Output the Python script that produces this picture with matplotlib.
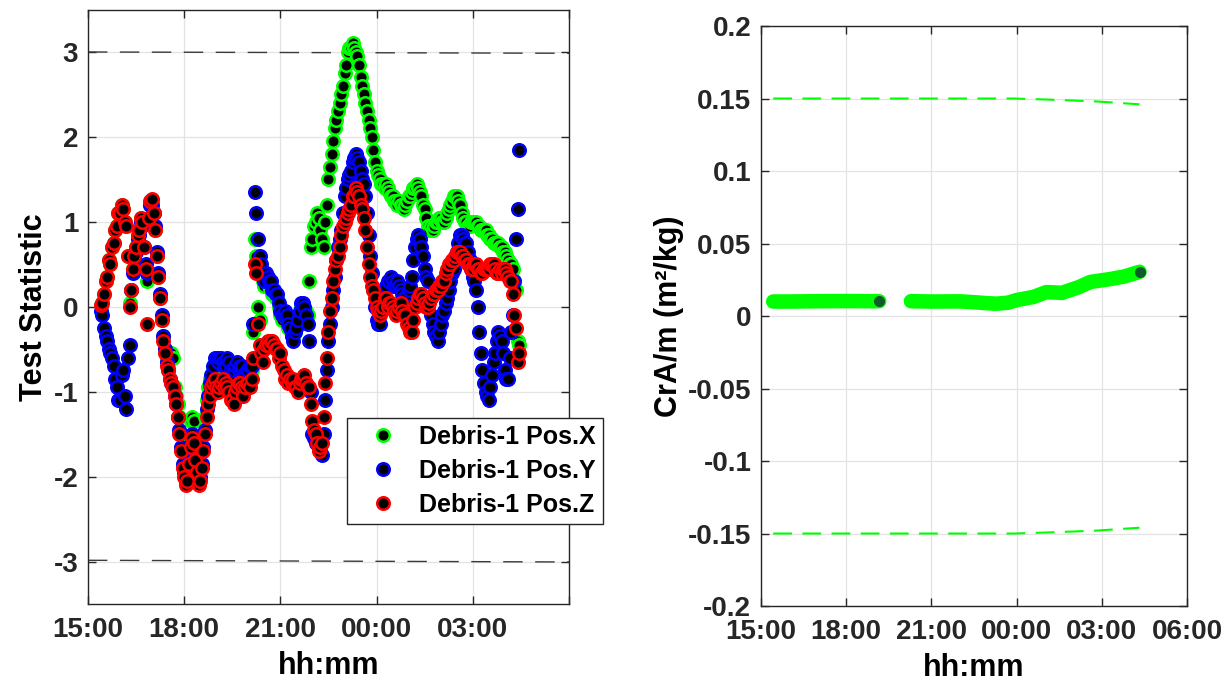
import matplotlib.pyplot as plt
import numpy as np

plt.rcParams['font.family'] = ['Liberation Sans', 'DejaVu Sans']
plt.rcParams['font.weight'] = 'bold'
plt.rcParams['axes.unicode_minus'] = False

# sample times, minutes after 15:00 (one row = one hour)
t_min = [24, 27, 30, 33, 36, 39, 42, 45, 48, 51, 54, 57, 60, 63, 66, 69, 72, 75, 78, 81,
         84, 87, 90, 93, 96, 99, 102, 105, 108, 111, 114, 117, 120, 123, 126, 129, 132, 135, 138, 141,
         144, 147, 150, 153, 156, 159, 162, 165, 168, 171, 174, 177, 180, 183, 186, 189, 192, 195, 198, 201,
         204, 207, 210, 213, 216, 219, 222, 225, 228, 231, 234, 237, 240, 243, 246, 249, 252, 255, 258, 261,
         264, 267, 270, 273, 276, 279, 282, 285, 288, 291, 294, 297, 300, 303, 306, 309, 312, 315, 318, 321,
         324, 327, 330, 333, 336, 339, 342, 345, 348, 351, 354, 357, 360, 363, 366, 369, 372, 375, 378, 381,
         384, 387, 390, 393, 396, 399, 402, 405, 408, 411, 414, 417, 420, 423, 426, 429, 432, 435, 438, 441,
         444, 447, 450, 453, 456, 459, 462, 465, 468, 471, 474, 477, 480, 483, 486, 489, 492, 495, 498, 501,
         504, 507, 510, 513, 516, 519, 522, 525, 528, 531, 534, 537, 540, 543, 546, 549, 552, 555, 558, 561,
         564, 567, 570, 573, 576, 579, 582, 585, 588, 591, 594, 597, 600, 603, 606, 609, 612, 615, 618, 621,
         624, 627, 630, 633, 636, 639, 642, 645, 648, 651, 654, 657, 660, 663, 666, 669, 672, 675, 678, 681,
         684, 687, 690, 693, 696, 699, 702, 705, 708, 711, 714, 717, 720, 723, 726, 729, 732, 735, 738, 741,
         744, 747, 750, 753, 756, 759, 762, 765, 768, 771, 774, 777, 780, 783, 786, 789, 792, 795, 798, 801,
         804, 807]

pos_x = [0.02, 0.05, 0.15, 0.3, 0.35, 0.55, 0.5, 0.7, 0.75, 0.9, 0.95, 1.1, 1.1, 1.2, 1.15, 1.0, 0.95, 0.6, 0.05, 0.2,
         0.45, 0.6, 0.7, 0.85, 0.9, 1.05, 1.0, 0.7, 0.45, 0.3, 1.05, 1.2, 1.25, 1.1, 0.9, 0.6, 0.35, 0.1, -0.15, -0.35,
         -0.5, -0.6, -0.7, -0.6, -0.55, -0.6, -0.95, -1.05, -1.15, -1.3, -1.5, -1.7, -1.85, -1.9, -1.85, -1.6, -1.35, -1.3, -1.35, -1.55,
         -1.75, -1.85, -1.85, -1.7, -1.5, -1.3, -1.1, -0.95, -0.85, -0.8, -0.75, -0.75, -0.8, -0.8, -0.8, -0.75, -0.75, -0.8, -0.8, -0.75,
         -0.8, -0.85, -0.9, -0.9, -0.85, -0.8, -0.85, -0.8, -0.8, -0.9, -0.85, -0.8, -0.8, -0.8, -0.75, -0.3, 0.8, 0.6, 0.0, -0.15,
         0.4, 0.3, 0.25, 0.35, 0.3, 0.25, 0.25, 0.15, 0.15, 0.1, 0.1, 0.0, -0.1, -0.15, -0.1, -0.1, -0.15, -0.25, -0.25, -0.35,
         -0.35, -0.3, -0.25, -0.15, -0.1, 0.0, 0.0, -0.05, -0.05, -0.1, 0.3, 0.7, 0.8, 0.95, 1.0, 1.1, 1.05, 0.9, 0.8, 0.7,
         1.0, 1.2, 1.5, 1.65, 1.8, 1.95, 2.1, 2.2, 2.3, 2.4, 2.5, 2.6, 2.75, 2.85, 3.0, 3.05, 3.05, 3.1, 3.05, 3.0,
         2.95, 2.85, 2.7, 2.6, 2.5, 2.4, 2.3, 2.2, 2.1, 2.0, 1.85, 1.7, 1.6, 1.55, 1.5, 1.45, 1.45, 1.4, 1.45, 1.4,
         1.35, 1.3, 1.3, 1.25, 1.25, 1.2, 1.25, 1.2, 1.2, 1.15, 1.2, 1.25, 1.3, 1.3, 1.35, 1.4, 1.4, 1.45, 1.4, 1.35,
         1.3, 1.2, 1.15, 1.05, 0.95, 0.9, 0.95, 0.9, 0.95, 1.0, 1.0, 1.05, 1.05, 1.0, 1.0, 1.05, 1.1, 1.15, 1.2, 1.25,
         1.3, 1.3, 1.3, 1.25, 1.2, 1.1, 1.05, 1.0, 1.0, 0.95, 0.95, 1.0, 1.0, 1.0, 1.0, 0.95, 0.95, 0.9, 0.9, 0.9,
         0.9, 0.85, 0.85, 0.8, 0.8, 0.75, 0.75, 0.75, 0.75, 0.7, 0.7, 0.65, 0.65, 0.6, 0.55, 0.5, 0.5, 0.45, 0.3, 0.2,
         -0.4, -0.45]

pos_y = [-0.05, -0.1, -0.25, -0.35, -0.4, -0.5, -0.55, -0.6, -0.7, -0.85, -0.95, -1.1, -1.1, -0.8, -0.75, -1.05, -1.2, -0.6, -0.45, 0.2,
         0.4, 0.55, 0.65, 0.8, 0.85, 1.0, 0.95, 0.7, 0.5, 0.4, 1.0, 1.2, 1.2, 1.1, 0.95, 0.65, 0.4, 0.15, -0.1, -0.35,
         -0.5, -0.65, -0.75, -0.85, -0.9, -0.95, -1.05, -1.15, -1.3, -1.45, -1.65, -1.85, -1.95, -2.05, -2.0, -1.8, -1.65, -1.5, -1.55, -1.75,
         -1.9, -2.05, -2.0, -1.85, -1.65, -1.45, -1.2, -1.05, -0.9, -0.8, -0.7, -0.6, -0.6, -0.65, -0.6, -0.6, -0.65, -0.7, -0.7, -0.6,
         -0.65, -0.75, -0.8, -0.75, -0.7, -0.65, -0.75, -0.7, -0.7, -0.8, -0.8, -0.75, -0.75, -0.7, -0.7, -0.2, 1.35, 1.1, 0.8, 0.6,
         0.5, 0.35, 0.3, 0.4, 0.35, 0.3, 0.3, 0.2, 0.2, 0.15, 0.15, 0.05, -0.05, -0.1, -0.1, -0.05, -0.1, -0.2, -0.25, -0.35,
         -0.4, -0.3, -0.25, -0.15, -0.05, 0.05, 0.05, 0.0, -0.1, -0.2, -0.4, -1.0, -1.5, -1.55, -1.6, -1.55, -1.55, -1.65, -1.75, -1.5,
         -1.1, -0.75, -0.4, -0.2, 0.0, 0.2, 0.35, 0.55, 0.7, 0.8, 0.9, 1.1, 1.3, 1.4, 1.5, 1.55, 1.6, 1.7, 1.75, 1.8,
         1.75, 1.7, 1.6, 1.5, 1.45, 1.3, 1.1, 0.85, 0.6, 0.4, 0.2, 0.0, -0.15, -0.2, -0.2, -0.05, 0.1, 0.2, 0.25, 0.3,
         0.3, 0.35, 0.3, 0.25, 0.25, 0.3, 0.25, 0.2, 0.15, 0.1, 0.1, 0.15, 0.2, 0.25, 0.35, 0.55, 0.7, 0.8, 0.85, 0.8,
         0.7, 0.6, 0.45, 0.35, 0.3, 0.1, -0.1, -0.2, -0.3, -0.35, -0.4, -0.3, -0.2, -0.1, -0.05, 0.05, 0.1, 0.2, 0.3, 0.4,
         0.45, 0.55, 0.65, 0.75, 0.85, 0.85, 0.8, 0.75, 0.75, 0.65, 0.55, 0.45, 0.35, 0.3, 0.2, 0.0, -0.3, -0.55, -0.75, -0.9,
         -1.0, -1.05, -1.1, -0.95, -0.8, -0.65, -0.55, -0.4, -0.3, -0.35, -0.4, -0.55, -0.75, -0.85, -0.85, -0.6, -0.3, -0.1, 0.3, 0.8,
         1.15, 1.85]

pos_z = [0.02, 0.05, 0.15, 0.3, 0.35, 0.55, 0.5, 0.7, 0.75, 0.9, 0.95, 1.1, 1.1, 1.2, 1.15, 1.0, 0.95, 0.6, 0.0, 0.2,
         0.45, 0.6, 0.7, 0.85, 0.9, 1.05, 1.0, 0.7, 0.45, -0.2, 1.05, 1.25, 1.27, 1.1, 0.9, 0.6, 0.35, 0.1, -0.15, -0.4,
         -0.55, -0.7, -0.75, -0.85, -0.9, -0.95, -1.05, -1.15, -1.3, -1.5, -1.7, -1.9, -2.0, -2.1, -2.05, -1.85, -1.65, -1.55, -1.6, -1.8,
         -1.95, -2.1, -2.05, -1.9, -1.7, -1.5, -1.3, -1.15, -1.05, -0.95, -0.9, -0.85, -0.95, -1.0, -0.95, -0.9, -0.85, -0.95, -0.9, -0.95,
         -1.0, -1.1, -1.1, -1.15, -1.0, -0.95, -0.9, -0.9, -0.95, -1.05, -0.95, -0.9, -0.9, -0.95, -0.85, -0.6, 0.5, 0.4, -0.2, -0.45,
         -0.55, -0.65, -0.5, -0.45, -0.4, -0.45, -0.4, -0.4, -0.45, -0.5, -0.5, -0.6, -0.55, -0.7, -0.75, -0.85, -0.8, -0.9, -0.85, -0.9,
         -0.85, -0.95, -0.95, -1.0, -0.9, -0.85, -0.85, -0.8, -0.9, -0.95, -0.95, -1.15, -1.35, -1.45, -1.5, -1.6, -1.7, -1.65, -1.6, -1.3,
         -0.9, -0.6, -0.3, -0.05, 0.1, 0.3, 0.45, 0.55, 0.6, 0.7, 0.85, 0.95, 1.0, 1.05, 1.1, 1.15, 1.2, 1.3, 1.3, 1.4,
         1.35, 1.3, 1.2, 1.15, 1.05, 0.9, 0.7, 0.5, 0.35, 0.25, 0.2, 0.1, 0.0, -0.05, -0.1, -0.05, 0.0, 0.1, 0.1, 0.0,
         0.05, 0.05, 0.0, -0.05, -0.1, -0.05, 0.0, 0.05, -0.05, -0.1, -0.1, -0.2, -0.25, -0.3, -0.3, -0.15, 0.0, 0.05, 0.1, 0.15,
         0.15, 0.1, 0.05, 0.0, 0.0, 0.05, 0.1, 0.15, 0.15, 0.2, 0.2, 0.25, 0.25, 0.3, 0.3, 0.4, 0.45, 0.5, 0.5, 0.55,
         0.55, 0.6, 0.65, 0.65, 0.65, 0.6, 0.6, 0.55, 0.55, 0.5, 0.5, 0.45, 0.45, 0.5, 0.5, 0.45, 0.45, 0.4, 0.4, 0.45,
         0.45, 0.45, 0.45, 0.5, 0.5, 0.5, 0.45, 0.4, 0.4, 0.45, 0.4, 0.45, 0.45, 0.4, 0.35, 0.3, 0.3, 0.15, -0.1, -0.25,
         -0.65, -0.55]

# threshold lines (left), start/end of axis
thr_t = [0, 15]
thr_hi = [3.0, 2.985]
thr_lo = [-2.985, -3.005]

# CrA/m estimate (right), two segments, hours after 15:00
cra_t1 = [0.43, 1.0, 2.0, 3.0, 4.16]
cra_v1 = [0.0100, 0.0100, 0.0102, 0.0103, 0.0102]
cra_t2 = [5.28, 6.0, 7.0, 7.5, 8.0, 8.3, 8.7, 9.0, 9.6, 10.05, 10.6, 11.2, 11.6, 12.3, 12.8, 13.33]
cra_v2 = [0.0102, 0.0100, 0.0101, 0.0095, 0.0088, 0.0085, 0.0092, 0.0110, 0.0132, 0.0165, 0.0160, 0.0200, 0.0235, 0.0255, 0.0273, 0.0305]
bnd_t = [0.43, 8.9, 10.05, 11.8, 13.33]
bnd_v = [0.150, 0.150, 0.1493, 0.148, 0.146]

xticks = [0, 3, 6, 9, 12, 15]
xlabels_left = ['15:00', '18:00', '21:00', '00:00', '03:00', '']
xlabels_right = ['15:00', '18:00', '21:00', '00:00', '03:00', '06:00']

ink = '#262626'
t_hr = np.array(t_min) / 60.0

fig = plt.figure(figsize=(12.3, 6.9), dpi=100)
ax1 = fig.add_axes([0.0715, 0.1246, 0.3911, 0.8616])
ax2 = fig.add_axes([0.6187, 0.1217, 0.3463, 0.8406])


def style(ax):
    ax.grid(True, color='#e3e3e3', lw=0.9)
    ax.set_axisbelow(True)
    ax.tick_params(direction='in', length=6, width=1, colors=ink,
                   top=True, right=True, labelsize=20)
    ax.tick_params(axis='x', pad=9)
    ax.tick_params(axis='y', pad=7)
    for s in ax.spines.values():
        s.set_color(ink)
        s.set_linewidth(1)
    for lab in ax.get_xticklabels() + ax.get_yticklabels():
        lab.set_fontweight('bold')


# left: test statistic
mk = dict(ms=9, mew=1.8, mfc='k', ls='none', marker='o')
ax1.plot(thr_t, thr_hi, color='#3a3a3a', lw=1, dashes=(14, 9), zorder=1)
ax1.plot(thr_t, thr_lo, color='#3a3a3a', lw=1, dashes=(14, 9), zorder=1)
ax1.plot(t_hr, pos_x, mec='#00ff00', zorder=2, label='Debris-1 Pos.X', **mk)
ax1.plot(t_hr, pos_y, mec='#0000ff', zorder=3, label='Debris-1 Pos.Y', **mk)
ax1.plot(t_hr, pos_z, mec='#ff0000', zorder=4, label='Debris-1 Pos.Z', **mk)
ax1.set_xlim(0, 15)
ax1.set_ylim(-3.5, 3.5)
ax1.set_xticks(xticks)
ax1.set_xticklabels(xlabels_left)
ax1.set_yticks([-3, -2, -1, 0, 1, 2, 3])
ax1.set_xlabel('hh:mm', fontsize=22, fontweight='bold', labelpad=6)
ax1.set_ylabel('Test Statistic', fontsize=22, fontweight='bold', labelpad=3)
style(ax1)
leg = ax1.legend(loc='upper left', bbox_to_anchor=(347 / 1230, 1 - 418 / 690),
                 bbox_transform=fig.transFigure, borderaxespad=0, fontsize=18,
                 fancybox=False, framealpha=1, edgecolor=ink, handlelength=2.3,
                 handletextpad=0.3, labelspacing=0.4, borderpad=0.28)
leg.get_frame().set_linewidth(1)
for txt in leg.get_texts():
    txt.set_fontweight('bold')

# right: CrA/m
ax2.plot(bnd_t, bnd_v, color='#00ff00', lw=1.5, dashes=(9, 5))
ax2.plot(bnd_t, [-v for v in bnd_v], color='#00ff00', lw=1.5, dashes=(9, 5))
for tt, vv in [(cra_t1, cra_v1), (cra_t2, cra_v2)]:
    ax2.plot(tt, vv, '-', color='#00ff00', lw=10.5, solid_capstyle='round',
             solid_joinstyle='round', zorder=3)
    ax2.plot(tt[-1:], vv[-1:], 'o', ms=7, mfc='#0e5c2c', mec='#0e5c2c', zorder=4)
ax2.set_xlim(0, 15)
ax2.set_ylim(-0.2, 0.2)
ax2.set_xticks(xticks)
ax2.set_xticklabels(xlabels_right)
ax2.set_yticks([-0.2, -0.15, -0.1, -0.05, 0, 0.05, 0.1, 0.15, 0.2])
ax2.set_yticklabels(['-0.2', '-0.15', '-0.1', '-0.05', '0', '0.05', '0.1', '0.15', '0.2'])
ax2.set_xlabel('hh:mm', fontsize=22, fontweight='bold', labelpad=6)
ax2.set_ylabel('CrA/m (m²/kg)', fontsize=22, fontweight='bold', labelpad=3)
style(ax2)

fig.savefig('out.png', dpi=100)
